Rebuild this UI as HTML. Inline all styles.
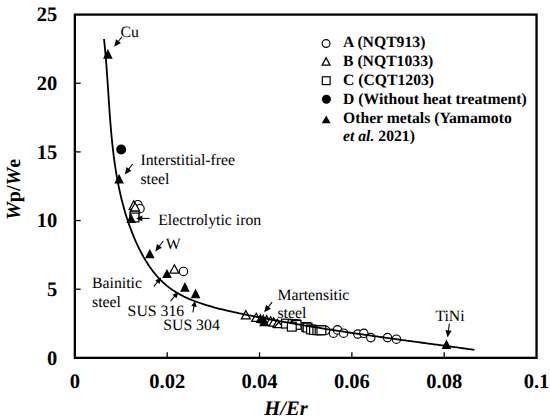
<!DOCTYPE html>
<html><head><meta charset="utf-8"><style>
html,body{margin:0;padding:0;background:#fff;}
body{width:550px;height:420px;overflow:hidden;}
svg{display:block;}
text{font-family:"Liberation Serif",serif;fill:#000;text-rendering:geometricPrecision;}
.tl{font-size:20.5px;font-weight:bold;}
.at{font-size:20.5px;font-weight:bold;}
.an{font-size:15.8px;}
.lg{font-size:15.7px;font-weight:bold;}
.frame{fill:none;stroke:#000;stroke-width:2.3;}
.tick{stroke:#000;stroke-width:1.3;}
.curve{fill:none;stroke:#000;stroke-width:1.8;}
.ft{fill:#000;}
.ht{fill:#fff;stroke:#000;stroke-width:1.25;stroke-linejoin:miter;}
.hc{fill:#fff;stroke:#000;stroke-width:1.15;}
.hs{fill:#fff;stroke:#000;stroke-width:1.2;}
.ar{stroke:#000;stroke-width:1.05;}
.ah{fill:#000;}
</style></head><body>
<svg width="550" height="420" viewBox="0 0 550 420">
<rect x="74.85" y="14.60" width="461.70" height="343.25" class="frame"/>
<line x1="167.19" y1="357.85" x2="167.19" y2="352.35" class="tick"/>
<line x1="259.53" y1="357.85" x2="259.53" y2="352.35" class="tick"/>
<line x1="351.87" y1="357.85" x2="351.87" y2="352.35" class="tick"/>
<line x1="444.21" y1="357.85" x2="444.21" y2="352.35" class="tick"/>
<line x1="74.85" y1="289.20" x2="80.65" y2="289.20" class="tick"/>
<line x1="74.85" y1="220.55" x2="80.65" y2="220.55" class="tick"/>
<line x1="74.85" y1="151.90" x2="80.65" y2="151.90" class="tick"/>
<line x1="74.85" y1="83.25" x2="80.65" y2="83.25" class="tick"/>
<text x="57.3" y="364.65" class="tl" text-anchor="end">0</text>
<text x="57.3" y="296.00" class="tl" text-anchor="end">5</text>
<text x="57.3" y="227.35" class="tl" text-anchor="end">10</text>
<text x="57.3" y="158.70" class="tl" text-anchor="end">15</text>
<text x="57.3" y="90.05" class="tl" text-anchor="end">20</text>
<text x="57.3" y="21.40" class="tl" text-anchor="end">25</text>
<text x="74.85" y="388" class="tl" text-anchor="middle">0</text>
<text x="167.19" y="388" class="tl" text-anchor="middle">0.02</text>
<text x="259.53" y="388" class="tl" text-anchor="middle">0.04</text>
<text x="351.87" y="388" class="tl" text-anchor="middle">0.06</text>
<text x="444.21" y="388" class="tl" text-anchor="middle">0.08</text>
<text x="536.55" y="388" class="tl" text-anchor="middle">0.1</text>
<text x="286" y="414.6" class="at" text-anchor="middle"><tspan font-style="italic">H/Er</tspan></text>
<text transform="translate(19.9,189.4) rotate(-90)" class="at" font-size="20" style="font-size:20px" text-anchor="middle"><tspan font-style="italic">W</tspan>p/<tspan font-style="italic">W</tspan>e</text>
<circle cx="137.80" cy="204.70" r="4.20" class="hc"/>
<circle cx="140.00" cy="208.70" r="4.20" class="hc"/>
<circle cx="183.45" cy="271.45" r="4.20" class="hc"/>
<circle cx="325.60" cy="330.30" r="4.20" class="hc"/>
<circle cx="333.45" cy="333.20" r="4.20" class="hc"/>
<circle cx="337.50" cy="329.90" r="4.20" class="hc"/>
<circle cx="343.60" cy="333.20" r="4.20" class="hc"/>
<circle cx="357.80" cy="334.00" r="4.20" class="hc"/>
<circle cx="363.80" cy="333.30" r="4.20" class="hc"/>
<circle cx="370.80" cy="337.60" r="4.20" class="hc"/>
<circle cx="387.50" cy="337.60" r="4.20" class="hc"/>
<circle cx="396.40" cy="339.20" r="4.20" class="hc"/>
<path d="M133.70,200.80 L138.20,209.40 L129.20,209.40 Z" class="ht"/>
<path d="M135.10,202.80 L139.60,211.00 L130.60,211.00 Z" class="ht"/>
<path d="M174.40,264.80 L178.90,273.10 L169.90,273.10 Z" class="ht"/>
<path d="M245.80,310.60 L250.30,318.90 L241.30,318.90 Z" class="ht"/>
<path d="M256.20,313.20 L260.70,321.40 L251.70,321.40 Z" class="ht"/>
<path d="M266.60,315.60 L271.10,323.90 L262.10,323.90 Z" class="ht"/>
<path d="M270.60,316.80 L275.10,325.00 L266.10,325.00 Z" class="ht"/>
<path d="M273.60,317.90 L278.10,326.00 L269.10,326.00 Z" class="ht"/>
<path d="M277.40,319.20 L281.90,327.20 L272.90,327.20 Z" class="ht"/>
<path d="M278.80,322.00 L283.30,327.60 L274.30,327.60 Z" class="ht"/>
<rect x="130.10" y="211.20" width="8.80" height="8.80" class="hs"/>
<rect x="130.10" y="213.10" width="8.80" height="8.80" class="hs"/>
<rect x="281.60" y="319.20" width="8.80" height="8.80" class="hs"/>
<rect x="288.20" y="319.60" width="8.80" height="8.80" class="hs"/>
<rect x="291.30" y="319.90" width="8.80" height="8.80" class="hs"/>
<rect x="292.20" y="320.50" width="8.80" height="8.80" class="hs"/>
<rect x="287.40" y="322.30" width="8.80" height="8.80" class="hs"/>
<rect x="301.90" y="322.60" width="8.80" height="8.80" class="hs"/>
<rect x="303.20" y="323.20" width="8.80" height="8.80" class="hs"/>
<rect x="306.60" y="325.00" width="8.80" height="8.80" class="hs"/>
<rect x="309.60" y="325.50" width="8.80" height="8.80" class="hs"/>
<rect x="312.90" y="325.80" width="8.80" height="8.80" class="hs"/>
<rect x="315.20" y="325.90" width="8.80" height="8.80" class="hs"/>
<rect x="317.00" y="325.90" width="8.80" height="8.80" class="hs"/>
<circle cx="121.2" cy="149.5" r="5.0" fill="#000"/>
<path d="M107.90,49.00 L112.70,58.70 L103.10,58.70 Z" class="ft"/>
<path d="M119.10,174.00 L123.90,183.50 L114.30,183.50 Z" class="ft"/>
<path d="M131.10,213.60 L135.90,223.00 L126.30,223.00 Z" class="ft"/>
<path d="M149.80,248.90 L154.60,258.20 L145.00,258.20 Z" class="ft"/>
<path d="M167.00,268.90 L171.80,278.10 L162.20,278.10 Z" class="ft"/>
<path d="M184.90,282.00 L189.70,291.70 L180.10,291.70 Z" class="ft"/>
<path d="M195.60,288.60 L200.40,298.20 L190.80,298.20 Z" class="ft"/>
<path d="M260.40,313.50 L265.20,322.90 L255.60,322.90 Z" class="ft"/>
<path d="M263.20,314.00 L268.00,323.60 L258.40,323.60 Z" class="ft"/>
<path d="M264.00,316.80 L268.80,326.20 L259.20,326.20 Z" class="ft"/>
<path d="M446.50,339.60 L451.30,349.00 L441.70,349.00 Z" class="ft"/>
<path d="M104.00,38.98 L104.31,41.87 L104.60,44.77 L104.88,47.66 L105.16,50.56 L105.42,53.45 L105.67,56.35 L105.91,59.25 L106.15,62.15 L106.37,65.05 L106.59,67.95 L106.80,70.85 L107.01,73.75 L107.22,76.65 L107.41,79.55 L107.61,82.45 L107.80,85.36 L108.00,88.26 L108.19,91.16 L108.38,94.06 L108.57,96.96 L108.76,99.86 L108.95,102.76 L109.15,105.65 L109.35,108.55 L109.55,111.45 L109.76,114.34 L109.97,117.23 L110.19,120.13 L110.41,123.01 L110.65,125.90 L110.89,128.79 L111.14,131.67 L111.40,134.55 L111.67,137.43 L111.96,140.31 L112.25,143.19 L112.56,146.06 L112.88,148.93 L113.21,151.79 L113.56,154.66 L113.93,157.52 L114.31,160.38 L114.71,163.23 L115.12,166.08 L115.56,168.93 L116.01,171.77 L116.49,174.61 L116.98,177.45 L117.50,180.28 L118.03,183.11 L118.59,185.93 L119.18,188.75 L119.79,191.56 L120.42,194.37 L121.08,197.18 L121.76,199.98 L122.48,202.77 L123.22,205.57 L123.99,208.35 L124.78,211.13 L125.61,213.90 L126.47,216.67 L127.36,219.44 L128.29,222.19 L129.24,224.95 L130.23,227.69 L131.26,230.43 L132.32,233.16 L133.41,235.89 L134.54,238.61 L135.71,241.31 L136.92,244.00 L138.17,246.67 L139.47,249.32 L140.80,251.94 L142.19,254.53 L143.61,257.09 L145.09,259.62 L146.61,262.10 L148.19,264.55 L149.82,266.94 L151.49,269.29 L153.23,271.58 L155.02,273.82 L156.86,276.00 L158.76,278.11 L160.73,280.16 L162.75,282.14 L164.84,284.04 L166.98,285.87 L169.20,287.62 L171.48,289.28 L173.82,290.87 L176.22,292.37 L178.68,293.80 L181.19,295.16 L183.74,296.45 L186.34,297.68 L188.98,298.85 L191.65,299.96 L194.35,301.02 L197.08,302.03 L199.83,303.00 L202.60,303.92 L205.38,304.81 L208.18,305.66 L210.98,306.48 L213.79,307.27 L216.61,308.03 L219.44,308.77 L222.28,309.48 L225.12,310.16 L227.96,310.83 L230.81,311.48 L233.66,312.11 L236.52,312.73 L239.38,313.34 L242.24,313.94 L245.10,314.53 L247.96,315.11 L250.81,315.68 L253.67,316.25 L256.53,316.82 L259.39,317.37 L262.25,317.93 L265.11,318.47 L267.96,319.01 L270.82,319.55 L273.68,320.08 L276.53,320.60 L279.39,321.12 L282.25,321.64 L285.10,322.15 L287.96,322.65 L290.82,323.15 L293.67,323.65 L296.53,324.14 L299.39,324.63 L302.24,325.11 L305.10,325.59 L307.95,326.06 L310.81,326.53 L313.67,327.00 L316.52,327.46 L319.38,327.92 L322.24,328.37 L325.09,328.83 L327.95,329.27 L330.81,329.72 L333.67,330.16 L336.53,330.60 L339.38,331.03 L342.24,331.46 L345.10,331.89 L347.96,332.32 L350.82,332.74 L353.68,333.16 L356.54,333.58 L359.40,334.00 L362.26,334.41 L365.12,334.82 L367.99,335.23 L370.85,335.64 L373.71,336.05 L376.58,336.45 L379.44,336.85 L382.31,337.25 L385.17,337.65 L388.04,338.05 L390.90,338.45 L393.77,338.84 L396.64,339.24 L399.51,339.63 L402.38,340.02 L405.25,340.42 L408.12,340.81 L410.99,341.20 L413.86,341.59 L416.74,341.98 L419.61,342.37 L422.48,342.75 L425.36,343.14 L428.24,343.53 L431.11,343.92 L433.99,344.31 L436.87,344.70 L439.75,345.09 L442.63,345.48 L445.52,345.87 L448.40,346.26 L451.28,346.66 L454.17,347.05 L457.06,347.44 L459.94,347.84 L462.83,348.24 L465.72,348.63 L468.61,349.03 L471.51,349.43 L474.40,349.84" class="curve"/>
<line x1="122.00" y1="36.70" x2="117.89" y2="41.97" class="ar"/><path d="M114.20,46.70 L116.06,39.27 L120.95,43.09 Z" class="ah"/>
<line x1="132.60" y1="164.00" x2="128.38" y2="169.68" class="ar"/><path d="M124.80,174.50 L126.49,167.03 L131.46,170.73 Z" class="ah"/>
<line x1="149.60" y1="218.40" x2="141.30" y2="218.40" class="ar"/><path d="M136.10,218.40 L142.30,215.60 L142.30,221.20 Z" class="ah"/>
<line x1="163.30" y1="241.00" x2="158.86" y2="246.75" class="ar"/><path d="M155.20,251.50 L157.02,244.06 L161.93,247.85 Z" class="ah"/>
<line x1="153.80" y1="286.50" x2="158.00" y2="281.44" class="ar"/><path d="M161.20,277.60 L159.48,283.97 L155.25,280.46 Z" class="ah"/>
<line x1="170.50" y1="301.20" x2="175.16" y2="295.71" class="ar"/><path d="M178.40,291.90 L176.61,298.25 L172.42,294.69 Z" class="ah"/>
<line x1="192.90" y1="312.30" x2="194.12" y2="305.43" class="ar"/><path d="M194.90,301.00 L196.65,306.90 L191.23,305.94 Z" class="ah"/>
<line x1="272.10" y1="302.10" x2="267.87" y2="307.56" class="ar"/><path d="M264.20,312.30 L266.04,304.87 L270.94,308.66 Z" class="ah"/>
<line x1="449.30" y1="323.60" x2="448.33" y2="331.45" class="ar"/><path d="M447.60,337.40 L445.38,330.07 L451.53,330.83 Z" class="ah"/>
<text x="120.40" y="36.60" class="an">Cu</text>
<text x="140.40" y="165.30" class="an">Interstitial-free</text>
<text x="140.40" y="183.80" class="an">steel</text>
<text x="158.20" y="224.70" class="an">Electrolytic iron</text>
<text x="165.80" y="248.80" class="an">W</text>
<text x="92.00" y="288.40" class="an">Bainitic</text>
<text x="92.00" y="306.90" class="an">steel</text>
<text x="127.60" y="315.80" class="an">SUS 316</text>
<text x="163.20" y="330.30" class="an">SUS 304</text>
<text x="277.40" y="299.50" class="an">Martensitic</text>
<text x="277.40" y="317.90" class="an">steel</text>
<text x="435.40" y="321.10" class="an">TiNi</text>
<circle cx="326.10" cy="43.50" r="3.90" class="hc"/>
<path d="M326.10,57.70 L330.00,65.20 L322.20,65.20 Z" class="ht"/>
<rect x="322.30" y="76.80" width="7.80" height="7.80" class="hs"/>
<circle cx="326.4" cy="99.2" r="4.5" fill="#000"/>
<path d="M326.20,115.60 L330.60,123.20 L321.80,123.20 Z" class="ft"/>
<text x="343.00" y="47.20" class="lg">A (NQT913)</text>
<text x="343.00" y="65.60" class="lg">B (NQT1033)</text>
<text x="343.00" y="84.60" class="lg">C (CQT1203)</text>
<text x="343.00" y="103.60" class="lg">D (Without heat treatment)</text>
<text x="343.00" y="123.00" class="lg">Other metals (Yamamoto</text>
<text x="343.00" y="141.4" class="lg"><tspan font-style="italic">et al.</tspan> 2021)</text>
</svg>
</body></html>
